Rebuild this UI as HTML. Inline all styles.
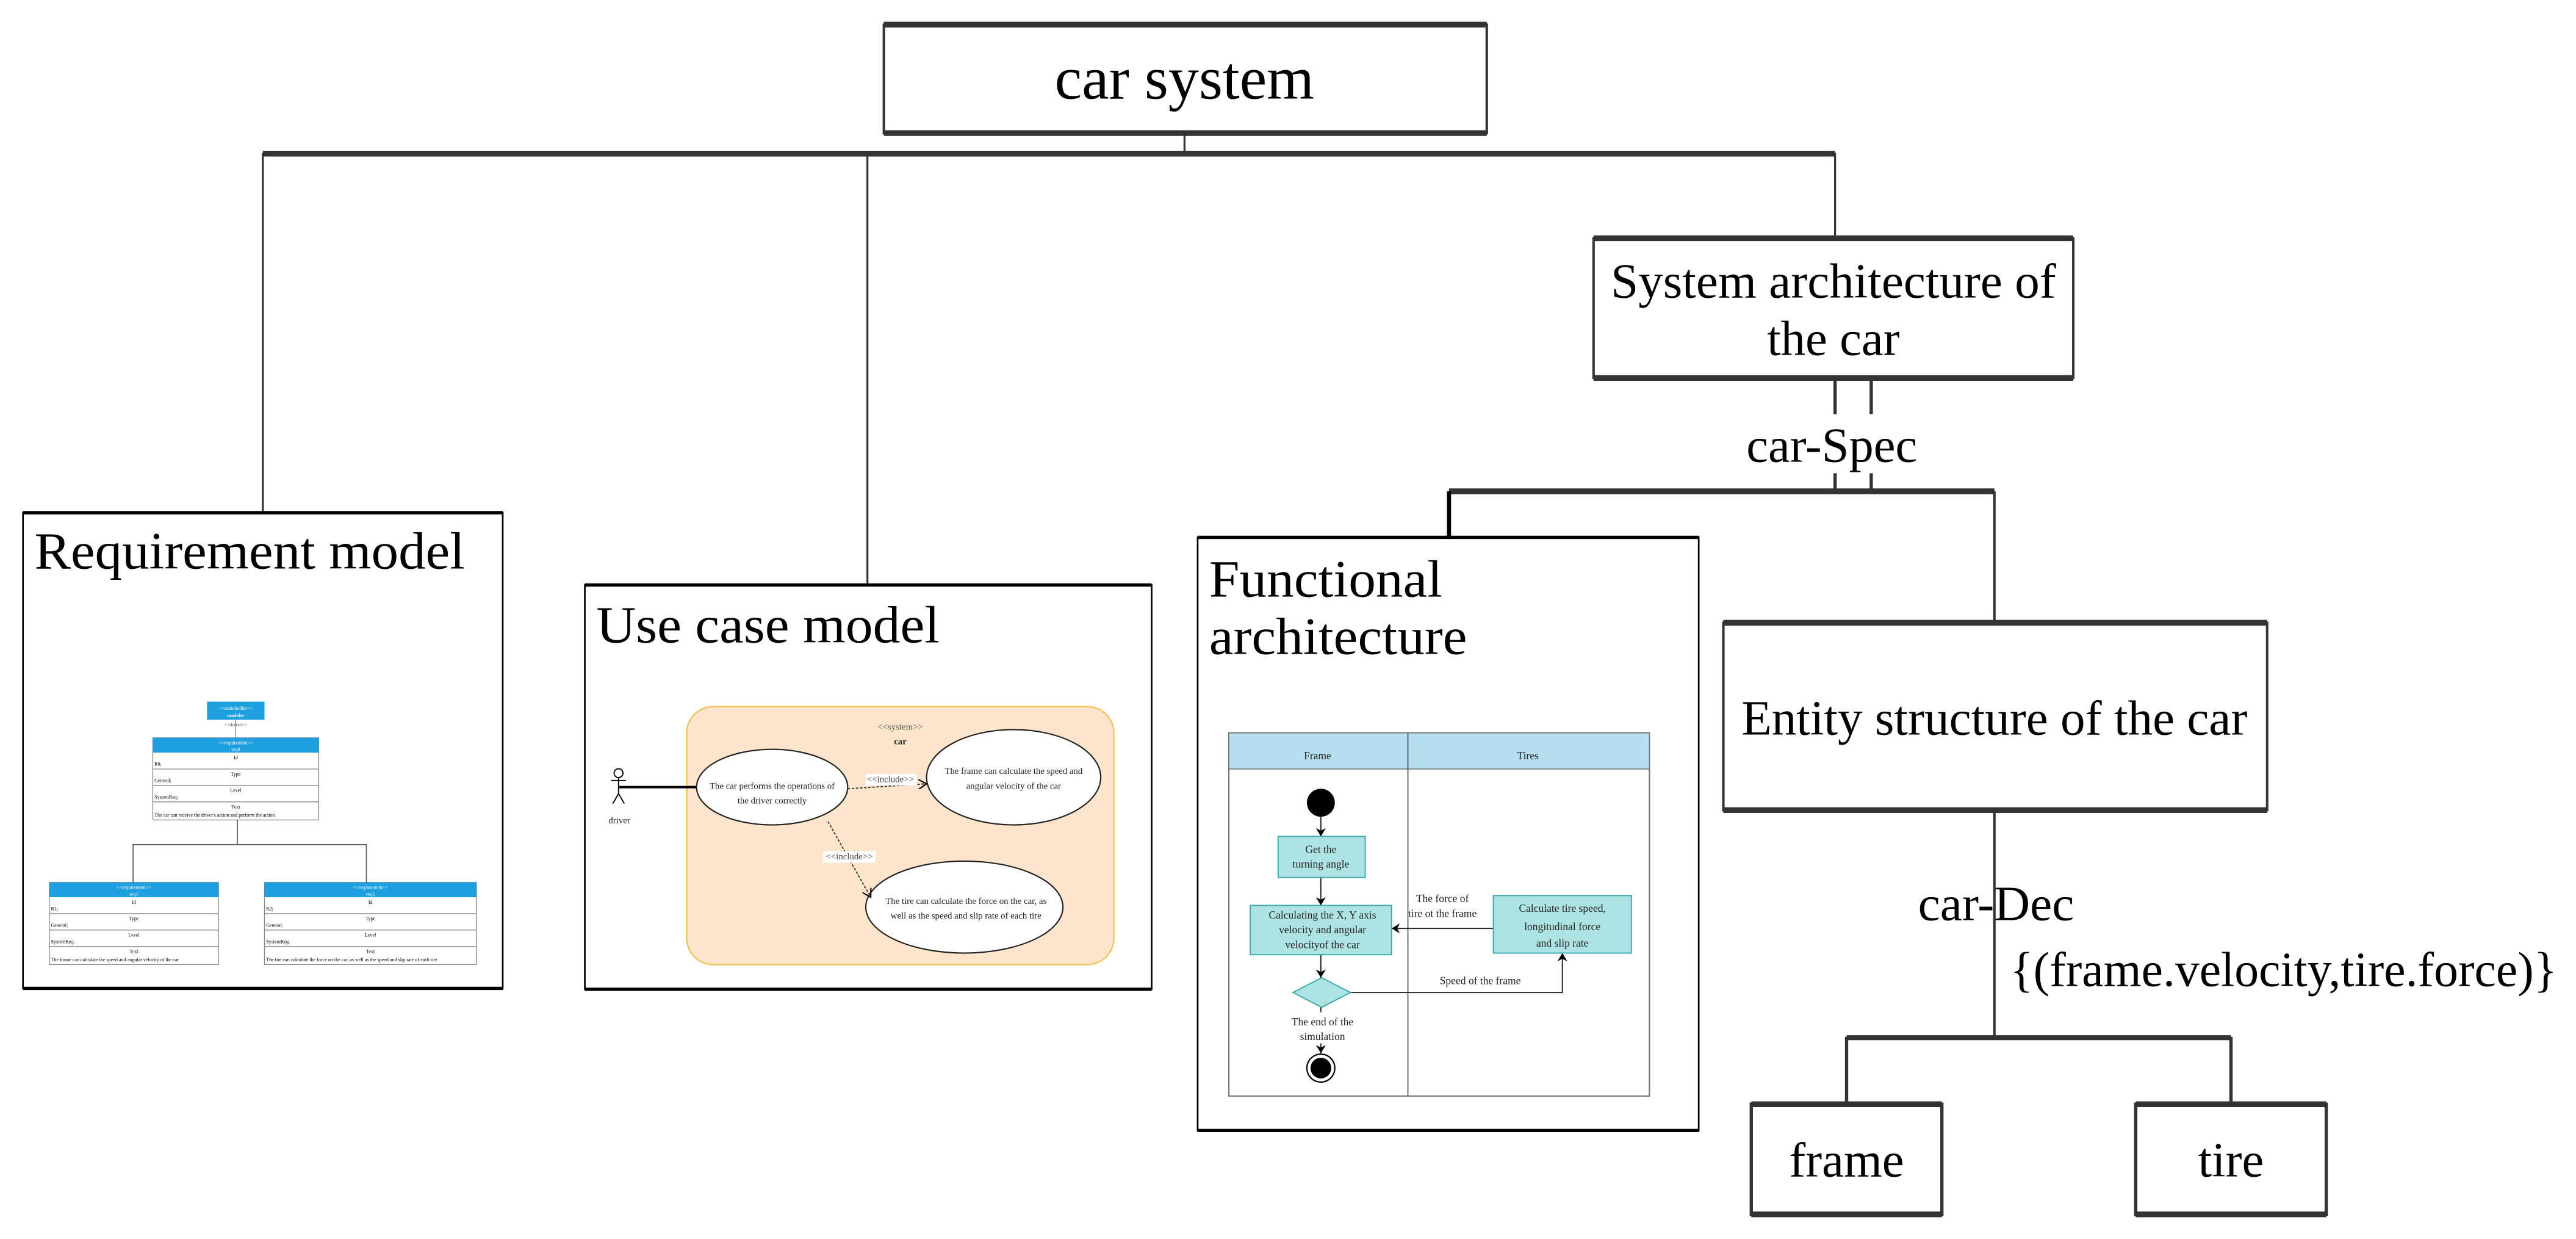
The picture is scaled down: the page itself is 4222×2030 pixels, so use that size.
<!DOCTYPE html>
<html><head><meta charset="utf-8"><style>html,body{margin:0;padding:0;background:#fff}svg{display:block}</style></head>
<body>
<svg width="4222" height="2030" viewBox="0 0 1568 754" preserveAspectRatio="none" xmlns="http://www.w3.org/2000/svg" font-family="'Liberation Serif', serif">
<defs>
<marker id="a" markerWidth="6" markerHeight="6" refX="5" refY="3" orient="auto" markerUnits="userSpaceOnUse"><path d="M0,0 L5,3 L0,6" fill="none" stroke="#000" stroke-width="0.8"/></marker>
<marker id="f" markerWidth="6" markerHeight="6" refX="5" refY="3" orient="auto" markerUnits="userSpaceOnUse"><path d="M0,0 L5,3 L0,6 L1.5,3Z" fill="#000"/></marker>
</defs>
<g stroke="#333" fill="none">
<line x1="721" y1="81" x2="721" y2="93" stroke-width="1.2"/>
<line x1="160" y1="93.5" x2="1117" y2="93.5" stroke-width="3.5"/>
<line x1="160" y1="93" x2="160" y2="312" stroke-width="1.2"/>
<line x1="528" y1="93" x2="528" y2="356" stroke-width="1.2"/>
<line x1="1117" y1="93" x2="1117" y2="144" stroke-width="1.2"/>
<line x1="1117" y1="230" x2="1117" y2="252" stroke-width="2"/>
<line x1="1139" y1="230" x2="1139" y2="252" stroke-width="2"/>
<line x1="1117" y1="288" x2="1117" y2="299" stroke-width="2"/>
<line x1="1139" y1="288" x2="1139" y2="299" stroke-width="2"/>
<line x1="882" y1="299" x2="1214" y2="299" stroke-width="3.5"/>
<line x1="882" y1="299" x2="882" y2="328" stroke-width="2.5" stroke="#000"/>
<line x1="1214" y1="299" x2="1214" y2="379" stroke-width="1.5"/>
<line x1="1214" y1="493" x2="1214" y2="631" stroke-width="1.5"/>
<line x1="1124" y1="631.5" x2="1358" y2="631.5" stroke-width="3"/>
<line x1="1124" y1="631" x2="1124" y2="672" stroke-width="2"/>
<line x1="1358" y1="631" x2="1358" y2="672" stroke-width="2"/>
<rect x="538" y="15" width="367" height="66" stroke-width="1.5"/>
<line x1="538" y1="15" x2="905" y2="15" stroke-width="3.5"/><line x1="538" y1="81" x2="905" y2="81" stroke-width="3.5"/>
<rect x="970" y="145" width="292" height="85" stroke-width="1.5"/>
<line x1="970" y1="145" x2="1262" y2="145" stroke-width="3.5"/><line x1="970" y1="230" x2="1262" y2="230" stroke-width="3.5"/>
<rect x="1049" y="379" width="331" height="114" stroke-width="1.5"/>
<line x1="1049" y1="379" x2="1380" y2="379" stroke-width="3.5"/><line x1="1049" y1="493" x2="1380" y2="493" stroke-width="3.5"/>
<rect x="1066" y="672" width="116" height="67" stroke-width="2"/>
<line x1="1066" y1="672" x2="1182" y2="672" stroke-width="3.5"/><line x1="1066" y1="739" x2="1182" y2="739" stroke-width="3.5"/>
<rect x="1300" y="672" width="116" height="67" stroke-width="2"/>
<line x1="1300" y1="672" x2="1416" y2="672" stroke-width="3.5"/><line x1="1300" y1="739" x2="1416" y2="739" stroke-width="3.5"/>
</g>
<g stroke="#000" fill="none">
<rect x="14" y="312" width="292" height="289.5" stroke-width="1"/>
<line x1="14" y1="312" x2="306" y2="312" stroke-width="2"/><line x1="14" y1="601.5" x2="306" y2="601.5" stroke-width="2"/>
<rect x="356" y="356" width="345" height="246" stroke-width="1"/>
<line x1="356" y1="356" x2="701" y2="356" stroke-width="2"/><line x1="356" y1="602" x2="701" y2="602" stroke-width="2"/>
<rect x="729" y="327" width="305" height="361" stroke-width="1"/>
<line x1="729" y1="327" x2="1034" y2="327" stroke-width="2"/><line x1="729" y1="688" x2="1034" y2="688" stroke-width="2"/>
</g>
<g fill="#000" text-anchor="middle">
<text x="721" y="60" font-size="37" textLength="158" lengthAdjust="spacingAndGlyphs">car system</text>
<text x="1116" y="181" font-size="30" textLength="271" lengthAdjust="spacingAndGlyphs">System architecture of</text>
<text x="1116" y="216" font-size="30">the car</text>
<text x="1115" y="281" font-size="30" textLength="104" lengthAdjust="spacingAndGlyphs">car-Spec</text>
<text x="1214" y="447" font-size="30" textLength="308" lengthAdjust="spacingAndGlyphs">Entity structure of the car</text>
<text x="1215" y="560" font-size="30" textLength="95" lengthAdjust="spacingAndGlyphs">car-Dec</text>
<text x="1390" y="600" font-size="30" textLength="333" lengthAdjust="spacingAndGlyphs">{(frame.velocity,tire.force)}</text>
<text x="1124" y="716" font-size="30">frame</text>
<text x="1358" y="716" font-size="30">tire</text>
</g>
<g fill="#000" font-size="32">
<text x="21" y="346" textLength="262" lengthAdjust="spacingAndGlyphs">Requirement model</text>
<text x="363" y="391" textLength="209" lengthAdjust="spacingAndGlyphs">Use case model</text>
<text x="736" y="363" textLength="142" lengthAdjust="spacingAndGlyphs">Functional</text>
<text x="736" y="398" textLength="157" lengthAdjust="spacingAndGlyphs">architecture</text>
</g>
<g font-size="3" text-anchor="middle">
<rect x="126" y="427" width="35" height="11" fill="#1ea0e0"/>
<text x="143.5" y="432" fill="#fff">&lt;&lt;stakeholder&gt;&gt;</text><text x="143.5" y="436.5" fill="#fff" font-weight="bold">modeler</text>
<text x="143.5" y="442" fill="#555">&lt;&lt;derive&gt;&gt;</text>
<line x1="143.5" y1="438" x2="143.5" y2="449" stroke="#666" stroke-width="0.4"/>
<g stroke="#888" stroke-width="0.5" fill="#fff">
<rect x="93" y="449" width="101" height="50"/><rect x="30" y="537" width="103" height="50"/><rect x="161" y="537" width="129" height="50"/>
</g>
<rect x="93" y="449" width="101" height="9" fill="#1ea0e0"/><rect x="30" y="537" width="103" height="9" fill="#1ea0e0"/><rect x="161" y="537" width="129" height="9" fill="#1ea0e0"/>
<g stroke="#888" stroke-width="0.5">
<line x1="93" y1="468" x2="194" y2="468"/><line x1="93" y1="478" x2="194" y2="478"/><line x1="93" y1="488" x2="194" y2="488"/>
<line x1="30" y1="556" x2="133" y2="556"/><line x1="30" y1="566" x2="133" y2="566"/><line x1="30" y1="576" x2="133" y2="576"/>
<line x1="161" y1="556" x2="290" y2="556"/><line x1="161" y1="566" x2="290" y2="566"/><line x1="161" y1="576" x2="290" y2="576"/>
</g>
<g stroke="#555" stroke-width="0.6" fill="none"><path d="M144.5 499 V514 M81 537 V514 H223 V537"/></g>
<text x="143.5" y="453" fill="#fff">&lt;&lt;requirement&gt;&gt;</text><text x="143.5" y="457" fill="#fff">req0</text>
<text x="81.5" y="541" fill="#fff">&lt;&lt;requirement&gt;&gt;</text><text x="81.5" y="545" fill="#fff">req1</text>
<text x="225.5" y="541" fill="#fff">&lt;&lt;requirement&gt;&gt;</text><text x="225.5" y="545" fill="#fff">req2</text>
<text x="143.5" y="462">Id</text><text x="143.5" y="472">Type</text><text x="143.5" y="482">Level</text><text x="143.5" y="492">Text</text>
<text x="81.5" y="550">Id</text><text x="81.5" y="560">Type</text><text x="81.5" y="570">Level</text><text x="81.5" y="580">Text</text>
<text x="225.5" y="550">Id</text><text x="225.5" y="560">Type</text><text x="225.5" y="570">Level</text><text x="225.5" y="580">Text</text>
<g text-anchor="start">
<text x="94" y="466">R0;</text><text x="94" y="476">General;</text><text x="94" y="486">SystemReq;</text><text x="94" y="497">The car can receive the driver's action and perform the action</text>
<text x="31" y="554">R1;</text><text x="31" y="564">General;</text><text x="31" y="574">SystemReq;</text><text x="31" y="585">The frame can calculate the speed and angular velocity of the car</text>
<text x="162" y="554">R2;</text><text x="162" y="564">General;</text><text x="162" y="574">SystemReq;</text><text x="162" y="585">The tire can calculate the force on the car, as well as the speed and slip rate of each tire</text>
</g>
</g>
<rect x="418" y="430" width="260" height="157" rx="16" fill="#fde5cb" stroke="#f0c050" stroke-width="0.8"/>
<g fill="none" stroke="#000" stroke-width="0.7">
<circle cx="376.5" cy="470.5" r="2.7"/><path d="M376.5 473 V483 M372 475 H381 M376.5 483 L373 489 M376.5 483 L380 489"/>
</g>
<line x1="377" y1="479" x2="424" y2="479" stroke="#000" stroke-width="1.5"/>
<g fill="#fff" stroke="#222" stroke-width="0.8">
<ellipse cx="470" cy="479" rx="46" ry="23"/><ellipse cx="617" cy="473" rx="53" ry="29"/><ellipse cx="587" cy="552" rx="60" ry="28"/>
</g>
<g stroke="#333" stroke-width="0.7" stroke-dasharray="1.5,1" fill="none">
<line x1="516" y1="480" x2="564" y2="477" marker-end="url(#a)"/>
<line x1="504" y1="500" x2="530" y2="546" marker-end="url(#a)"/>
</g>
<rect x="527" y="471" width="31" height="7" fill="#fff"/><rect x="501" y="518" width="32" height="7" fill="#fff"/>
<g font-size="5.5" text-anchor="middle" fill="#222">
<text x="548" y="444" fill="#555">&lt;&lt;system&gt;&gt;</text><text x="548" y="453" font-weight="bold">car</text>
<text x="542" y="476" fill="#444">&lt;&lt;include&gt;&gt;</text><text x="517" y="523" fill="#444">&lt;&lt;include&gt;&gt;</text>
<text x="377" y="501">driver</text>
<text x="470" y="480">The car performs the operations of</text><text x="470" y="489">the driver correctly</text>
<text x="617" y="471">The frame can calculate the speed and</text><text x="617" y="480">angular velocity of the car</text>
<text x="588" y="550">The tire can calculate the force on the car, as</text><text x="588" y="559">well as the speed and slip rate of each tire</text>
</g>
<rect x="748" y="446" width="256" height="221" fill="#fff" stroke="#777" stroke-width="0.8"/>
<rect x="748" y="446" width="256" height="22" fill="#b3dff0" stroke="#777" stroke-width="0.6"/>
<line x1="857" y1="446" x2="857" y2="667" stroke="#444" stroke-width="0.6"/>
<circle cx="804" cy="488.5" r="8.5" fill="#000"/>
<g stroke="#222" stroke-width="0.7" fill="none">
<line x1="804" y1="497" x2="804" y2="509" marker-end="url(#f)"/>
<line x1="804" y1="534" x2="804" y2="551" marker-end="url(#f)"/>
<line x1="804" y1="581" x2="804" y2="595" marker-end="url(#f)"/>
<line x1="909" y1="565" x2="847" y2="565" marker-end="url(#f)"/>
<path d="M822 604 H951 V580" marker-end="url(#f)"/>
<line x1="804" y1="613" x2="804" y2="641" marker-end="url(#f)"/>
</g>
<g fill="#aee3e3" stroke="#3aa8a8" stroke-width="0.7">
<rect x="778" y="509" width="53" height="25"/><rect x="761" y="551" width="86" height="30"/><rect x="909" y="545" width="84" height="35"/>
<path d="M787 604 L804.5 595 L822 604 L804.5 613Z"/>
</g>
<rect x="785" y="616" width="40" height="19" fill="#fff"/>
<circle cx="804" cy="650" r="8.5" fill="#fff" stroke="#000" stroke-width="0.8"/><circle cx="804" cy="650" r="6.3" fill="#000"/>
<g font-size="6.5" text-anchor="middle" fill="#222">
<text x="802" y="462">Frame</text><text x="930" y="462">Tires</text>
<text x="804" y="519">Get the</text><text x="804" y="528">turning angle</text>
<text x="805" y="559">Calculating the X, Y axis</text><text x="805" y="568">velocity and angular</text><text x="805" y="577">velocityof the car</text>
<text x="951" y="555">Calculate tire speed,</text><text x="951" y="566">longitudinal force</text><text x="951" y="576">and slip rate</text>
<text x="878" y="549">The force of</text><text x="878" y="558">tire ot the frame</text>
<text x="901" y="599">Speed of the frame</text>
<text x="805" y="624">The end of the</text><text x="805" y="633">simulation</text>
</g>
</svg>
</body></html>
